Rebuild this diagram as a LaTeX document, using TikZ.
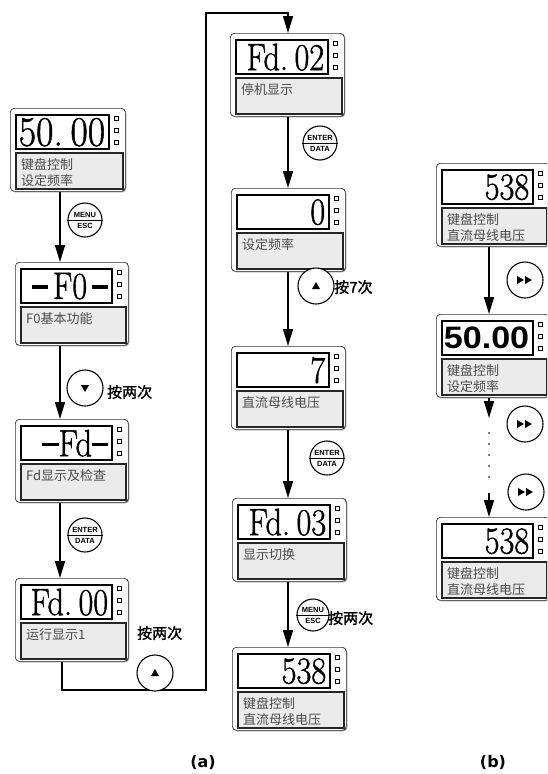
\documentclass[tikz,border=0pt]{standalone}
\usepackage{fontspec}
\usetikzlibrary{arrows.meta}
\newfontfamily\cjk{Noto Sans CJK SC}
\newfontfamily\cjkb{Noto Sans CJK SC}[FakeBold=1.5]
\newfontfamily\lsans{Liberation Sans}
\newfontfamily\dvs{DejaVu Sans}
\newfontfamily\dfont{Latin Modern Roman}[FakeBold=1.2]
\definecolor{boxgray}{HTML}{EBEBEB}
\definecolor{txtgray}{HTML}{4A4A4A}
\newcommand\dig[1]{\scalebox{0.85}[1]{\dfont\fontsize{38}{38}\selectfont #1}}
\newcommand\bigdig[1]{\scalebox{0.9}[1]{\dfont\fontsize{42}{42}\selectfont #1}}
\newcommand\dsh{\rule[0.26em]{0.5em}{0.1em}}
\newcommand\mypanel[7]{%
  \fill[black!40, rounded corners=4pt] (#2+1.3,#3+1.3) rectangle ++(#4,83);
  \node[outerbox, minimum width=#4pt] (#1) at (#2,#3) {};
  \node[dispbox, minimum width=#4pt-22pt] (#1d) at ([shift={(5pt,-6pt)}]#1.north west) {};
  \node[anchor=east, inner sep=0pt] at ([xshift=-5pt]#1d.east) {#5};
  \foreach \dy in {8,20,32} {\draw[dotsq] ([shift={(#4pt-11pt,-\dy pt)}]#1.north west) rectangle ++(4pt,-4pt);}
  \node[graybox, minimum width=#4pt-8pt] (#1g) at ([shift={(5pt,-44pt)}]#1.north west) {};
  \node[cjktxt] at ([shift={(6pt,-13pt)}]#1g.north west) {#6};
  \if\relax\detokenize{#7}\relax\else
  \node[cjktxt] at ([shift={(6pt,-29pt)}]#1g.north west) {#7};\fi
}
\newcommand\twobtn[6]{%
  \node[btn, minimum size=#4pt*2] (#1) at (#2,#3) {};
  \draw[line width=0.9pt] (#1.west) -- (#1.east);
  \node[btnlbl] at ([yshift=5pt]#1.center) {#5};
  \node[btnlbl] at ([yshift=-5.5pt]#1.center) {#6};
}
\newcommand\upbtn[4]{%
  \node[btn, minimum size=#4pt*2] (#1) at (#2,#3) {};
  \fill ([shift={(-4pt,-3pt)}]#1.center) -- ([shift={(4pt,-3pt)}]#1.center) -- ([shift={(0pt,4pt)}]#1.center) -- cycle;
}
\newcommand\downbtn[4]{%
  \node[btn, minimum size=#4pt*2] (#1) at (#2,#3) {};
  \fill ([shift={(-4pt,3pt)}]#1.center) -- ([shift={(4pt,3pt)}]#1.center) -- ([shift={(0pt,-4pt)}]#1.center) -- cycle;
}
\newcommand\ffbtn[4]{%
  \node[btn, minimum size=#4pt*2] (#1) at (#2,#3) {};
  \fill ([shift={(-8pt,-4pt)}]#1.center) -- ([shift={(-8pt,4pt)}]#1.center) -- ([shift={(-1pt,0pt)}]#1.center) -- cycle;
  \fill ([shift={(0pt,-4pt)}]#1.center) -- ([shift={(0pt,4pt)}]#1.center) -- ([shift={(7pt,0pt)}]#1.center) -- cycle;
}
\tikzset{
  outerbox/.style={draw=black!80, line width=0.7pt, rounded corners=4pt, fill=white, minimum height=83pt, inner sep=0pt, anchor=north west},
  dispbox/.style={draw=black, line width=2.4pt, fill=white, minimum height=34pt, inner sep=0pt, anchor=north west},
  graybox/.style={draw=black!85, line width=1.5pt, fill=boxgray, minimum height=36pt, inner sep=0pt, anchor=north west},
  dotsq/.style={draw=black, line width=1pt, fill=white},
  cjktxt/.style={font=\cjk\fontsize{13}{13}\selectfont, text=txtgray, anchor=west, inner sep=0pt},
  arr/.style={line width=1.5pt, -{Triangle[width=10pt,length=17pt]}},
  btn/.style={circle, draw, line width=1.1pt, fill=white, inner sep=0pt},
  btnlbl/.style={font=\lsans\bfseries\fontsize{7.5}{7.5}\selectfont, inner sep=0pt},
  lbl/.style={font=\cjkb\fontsize{15}{15}\selectfont, anchor=west, inner sep=0pt},
  captxt/.style={font=\dvs\bfseries\fontsize{16}{16}\selectfont, inner sep=0pt},
}
\begin{document}
\begin{tikzpicture}[x=1pt,y=-1pt]
\useasboundingbox (0,0) rectangle (547,774);
\fill[white] (0,0) rectangle (547,774);
\clip (0,0) rectangle (547,774);

% left column
\mypanel{L1}{10}{108}{115}{\bigdig{50.\hspace{0.2em}00}}{键盘控制}{设定频率}
\mypanel{L2}{15}{262}{113}{\dig{\dsh\hspace{0.15em}F0\hspace{0.15em}\dsh}}{F0基本功能}{}
\mypanel{L3}{15}{419}{113}{\dig{\dsh Fd\dsh}}{Fd显示及检查}{}
\mypanel{L4}{15}{578}{113}{\dig{Fd.\hspace{0.2em}00}}{运行显示1}{}
% middle column
\mypanel{M1}{230}{33}{114}{\dig{Fd.\hspace{0.2em}02}}{停机显示}{}
\mypanel{M2}{231}{188}{114}{\dig{0}}{设定频率}{}
\mypanel{M3}{231}{346}{114}{\dig{7}}{直流母线电压}{}
\mypanel{M4}{232}{498}{114}{\dig{Fd.\hspace{0.2em}03}}{显示切换}{}
\mypanel{M5}{232}{647}{114}{\dig{538}}{键盘控制}{直流母线电压}
% right column
\mypanel{R1}{436}{163}{113}{\dig{538}}{键盘控制}{直流母线电压}
\mypanel{R2}{436}{314}{113}{\scalebox{1.1}[1]{\lsans\bfseries\fontsize{31}{31}\selectfont 50.00}}{键盘控制}{设定频率}
\mypanel{R3}{436}{517}{113}{\dig{538}}{键盘控制}{直流母线电压}

% columns
\coordinate (cL) at (60,0);
\coordinate (cM) at (288,0);
\coordinate (cR) at (489,0);

\draw[arr] (L1.south -| cL) -- (L2.north -| cL);
\draw[arr] (L2.south -| cL) -- (L3.north -| cL);
\draw[arr] (L3.south -| cL) -- (L4.north -| cL);

\coordinate (lpA) at (62,690);
\coordinate (lpB) at (206,690);
\coordinate (lpC) at (206,13);
\coordinate (lpD) at (288,13);
\draw[arr] (L4.south -| lpA) -- (lpA) -- (lpB) -- (lpC) -- (lpD) -- (M1.north -| lpD);

\draw[arr] (M1.south -| cM) -- (M2.north -| cM);
\draw[arr] (M2.south -| cM) -- (M3.north -| cM);
\draw[arr] (M3.south -| cM) -- (M4.north -| cM);
\draw[arr] (M4.south -| cM) -- (M5.north -| cM);

\draw[arr] (R1.south -| cR) -- (R2.north -| cR);
\coordinate (rA) at (489,418);
\coordinate (rB) at (489,433);
\coordinate (rC) at (489,488);
\coordinate (rD) at (489,493);
\draw[arr] (R2.south -| cR) -- (rA);
\draw[line width=1.8pt, line cap=round, dash pattern=on 0pt off 11pt] (rB) -- (rC);
\draw[arr] (rD) -- (R3.north -| cR);

% buttons
\twobtn{bL1}{85}{220}{17}{MENU}{ESC}
\downbtn{bL2}{85}{388}{18}
\twobtn{bL3}{85}{535}{17}{ENTER}{DATA}
\upbtn{bL4}{155}{673}{18}
\twobtn{bM1}{320}{143}{17}{ENTER}{DATA}
\upbtn{bM2}{316}{286}{18}
\twobtn{bM3}{327}{458}{17}{ENTER}{DATA}
\twobtn{bM4}{313}{615}{16}{MENU}{ESC}
\ffbtn{bR1}{525}{280}{18}
\ffbtn{bR2}{525}{424}{18}
\ffbtn{bR3}{526}{492}{18}

% labels
\node[lbl] (t1) at (107,392) {按两次};
\node[lbl] (t2) at (137,633) {按两次};
\node[lbl] (t3) at (334,287) {按7次};
\node[lbl] (t4) at (328,618) {按两次};

\node[captxt] (capa) at (203,762) {(a)};
\node[captxt] (capb) at (493,762) {(b)};
\end{tikzpicture}
\end{document}
